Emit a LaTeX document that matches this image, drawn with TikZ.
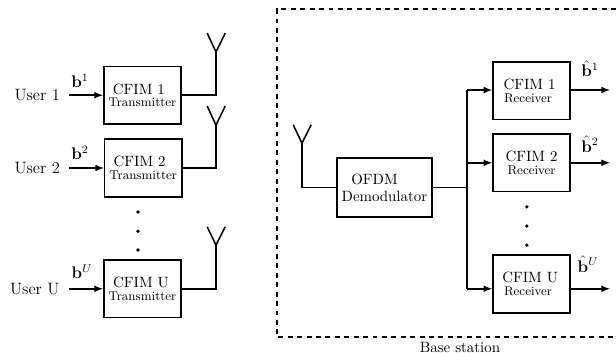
\documentclass[tikz,border=0pt]{standalone}
\usepackage{amsmath}
\usepackage{amssymb}
\usepackage{bm}

\tikzset{
  link/.style = {line width=1.1pt},
  arrlink/.style = {link, -latex},
  blockbox/.style = {draw, line width=1.1pt, minimum width=1.93cm, minimum height=1.44cm, inner sep=0pt, align=center, font=\fontsize{10.6}{9}\selectfont},
  dotnode/.style = {circle, fill, inner sep=0pt, minimum size=0.09cm},
  usertext/.style = {font=\fontsize{11.7}{14}\selectfont, inner sep=0pt},
  bitstext/.style = {font=\large, inner sep=0pt}
}
\newcommand{\subline}[1]{{\fontsize{9}{9}\selectfont #1}}

\begin{document}
\begin{tikzpicture}
  \useasboundingbox (0, 0) rectangle (15.4, -8.825);

  % users
  \node[blockbox] (t1) at (3.56, -2.38) {\mbox{CFIM 1\kern5pt}\\\subline{Transmitter}};
  \node[blockbox] (t2) at (3.58, -4.2) {\mbox{CFIM 2\kern5pt}\\\subline{Transmitter}};
  \node[blockbox] (tu) at (3.56, -7.22) {\mbox{CFIM U\kern2pt}\\\subline{Transmitter}};

  \node[usertext] (u1) at (0.93, -2.38) {User 1};
  \node[usertext] (u2) at (0.93, -4.2) {User 2};
  \node[usertext] (uu) at (0.87, -7.22) {User U};

  \node[bitstext] (b1) at (2.0, -2.02) {$\mathbf{b}^1$};
  \node[bitstext] (b2) at (2.0, -3.83) {$\mathbf{b}^2$};
  \node[bitstext] (bu) at (2.05, -6.8) {$\mathbf{b}^U$};

  \coordinate (in1) at (1.73, -2.38);
  \coordinate (in2) at (1.73, -4.2);
  \coordinate (inu) at (1.73, -7.22);
  \draw[arrlink] (in1) -- (t1.west);
  \draw[arrlink] (in2) -- (t2.west);
  \draw[arrlink] (inu) -- (tu.west);

  \node[dotnode] (td1) at (3.45, -5.3) {};
  \node[dotnode] (td2) at (3.45, -5.78) {};
  \node[dotnode] (td3) at (3.45, -6.25) {};

  % antennas
  \coordinate (a1) at (5.4, -1.3);
  \coordinate (a1l) at (5.18, -0.83);
  \coordinate (a1r) at (5.63, -0.83);
  \coordinate (a2) at (5.4, -3.13);
  \coordinate (a2l) at (5.18, -2.65);
  \coordinate (a2r) at (5.63, -2.65);
  \coordinate (au) at (5.4, -6.13);
  \coordinate (aul) at (5.18, -5.67);
  \coordinate (aur) at (5.63, -5.67);
  \draw[link] (t1.east) -| (a1);
  \draw[link] (t2.east) -| (a2);
  \draw[link] (tu.east) -| (au);
  \draw[link] (a1l) -- (a1) -- (a1r);
  \draw[link] (a2l) -- (a2) -- (a2r);
  \draw[link] (aul) -- (au) -- (aur);

  % base station
  \node[blockbox, minimum width=2.37cm, minimum height=1.47cm] (ofdm) at (9.61, -4.69) {\mbox{OFDM\kern14pt}\\[3pt]Demodulator};
  \node[blockbox] (r1) at (13.29, -2.27) {\mbox{CFIM 1\kern3pt}\\\subline{\mbox{Receiver\kern5pt}}};
  \node[blockbox] (r2) at (13.29, -4.07) {CFIM 2\\\subline{Receiver}};
  \node[blockbox] (ru) at (13.29, -7.1) {\mbox{CFIM U\kern2pt}\\\subline{\mbox{Receiver\kern5pt}}};

  \coordinate (ar) at (7.55, -3.58);
  \coordinate (arl) at (7.33, -3.12);
  \coordinate (arr) at (7.78, -3.12);
  \draw[link] (ofdm.west) -| (ar);
  \draw[link] (arl) -- (ar) -- (arr);

  \coordinate (bus) at (11.67, -4.69);
  \coordinate (bus1) at (11.67, -2.25);
  \coordinate (bus2) at (11.67, -4.07);
  \coordinate (busu) at (11.67, -7.22);
  \draw[link] (ofdm.east) -- (bus);
  \draw[link] (bus1) -- (busu);
  \draw[arrlink] (bus1) -- (bus1 -| r1.west);
  \draw[arrlink] (bus2) -- (bus2 -| r2.west);
  \draw[arrlink] (busu) -- (busu -| ru.west);

  \coordinate (out1) at (15.25, -2.25);
  \coordinate (out2) at (15.25, -4.07);
  \coordinate (outu) at (15.25, -7.22);
  \draw[arrlink] (out1 -| r1.east) -- (out1);
  \draw[arrlink] (out2 -| r2.east) -- (out2);
  \draw[arrlink] (outu -| ru.east) -- (outu);

  \node[bitstext] (h1) at (14.75, -1.72) {$\hat{\mathbf{b}}^1$};
  \node[bitstext] (h2) at (14.75, -3.6) {$\hat{\mathbf{b}}^2$};
  \node[bitstext] (hu) at (14.7, -6.6) {$\hat{\mathbf{b}}^U$};

  \node[dotnode] (rd1) at (13.17, -5.17) {};
  \node[dotnode] (rd2) at (13.17, -5.65) {};
  \node[dotnode] (rd3) at (13.17, -6.13) {};

  \coordinate (bsa) at (15.4, -0.23);
  \coordinate (bsb) at (6.92, -0.23);
  \coordinate (bsc) at (6.92, -8.43);
  \coordinate (bsd) at (15.4, -8.43);
  \draw[line width=1.3pt, dash pattern=on 3.5pt off 3.2pt] (bsa) -- (bsb) -- (bsc) -- (bsd);
  \node[font=\fontsize{10.6}{12}\selectfont, inner sep=0pt] (bs) at (11.5, -8.68) {Base station};
\end{tikzpicture}
\end{document}
